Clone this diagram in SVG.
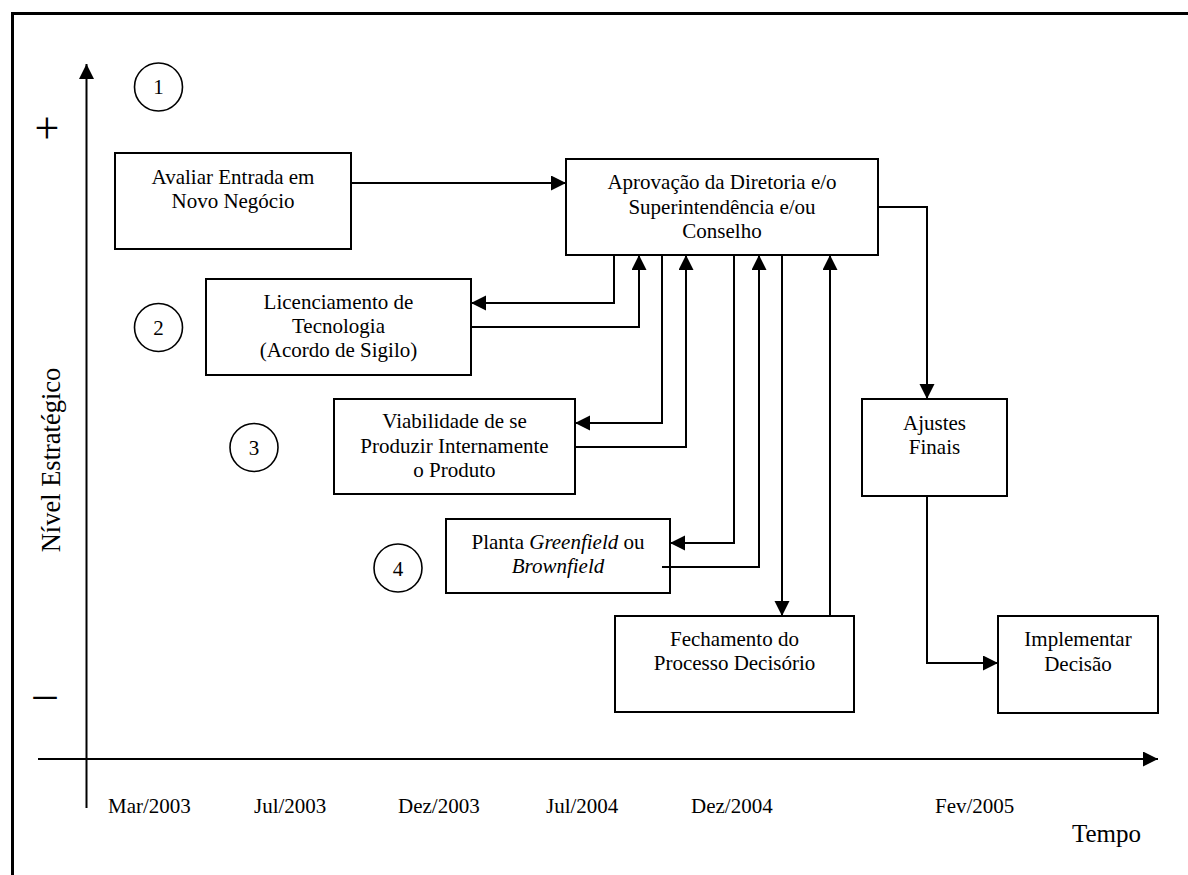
<svg xmlns="http://www.w3.org/2000/svg" width="1188" height="875" viewBox="0 0 1188 875" font-family="'Liberation Serif', 'Times New Roman', serif">
  <style>
    text { font-family: "Liberation Serif", "Times New Roman", serif; fill: #000; }
    .lbl { font-family: "Liberation Serif", "Times New Roman", serif; font-size: 21px; text-anchor: middle; }
    .date { font-family: "Liberation Serif", "Times New Roman", serif; font-size: 21px; }
    .box { fill: #fff; stroke: #000; stroke-width: 2; }
    .num { fill: none; stroke: #000; stroke-width: 1.6; }
    .wire { fill: none; stroke: #000; stroke-width: 2; }
    .axis { fill: none; stroke: #000; stroke-width: 2; }
  </style>
  <defs>
    <marker id="arrow" markerUnits="userSpaceOnUse" markerWidth="16" markerHeight="16" refX="15" refY="7.5" orient="auto">
      <path d="M0,0 L15,7.5 L0,15 Z" fill="#000"/>
    </marker>
  </defs>

  <rect width="1188" height="875" fill="#fff"/>
  <!-- outer frame (open on the right and bottom) -->
  <rect x="12.5" y="13.5" width="1200" height="900" fill="none" stroke="#000" stroke-width="3"/>

  <!-- axes -->
  <g id="axes">
    <line class="axis" x1="86.5" y1="808" x2="86.5" y2="64" marker-end="url(#arrow)" stroke-width="1.6"/>
    <line class="axis" x1="38" y1="759" x2="1158" y2="759" marker-end="url(#arrow)"/>
    <text x="47" y="143" font-size="44" text-anchor="middle">+</text>
    <text x="45" y="709" font-size="46" text-anchor="middle">–</text>
    <text transform="translate(60,460) rotate(-90)" font-size="26.5" text-anchor="middle">Nível Estratégico</text>
    <text x="1072" y="842" font-size="25">Tempo</text>
    <text class="date" x="108" y="813">Mar/2003</text>
    <text class="date" x="254" y="813">Jul/2003</text>
    <text class="date" x="398" y="813">Dez/2003</text>
    <text class="date" x="546" y="813">Jul/2004</text>
    <text class="date" x="691" y="813">Dez/2004</text>
    <text class="date" x="935" y="813">Fev/2005</text>
  </g>

  <!-- phase markers -->
  <g id="phase1">
    <circle class="num" cx="158.5" cy="87" r="24"/>
    <text class="lbl" x="158.5" y="94">1</text>
  </g>
  <g id="phase2">
    <circle class="num" cx="158.5" cy="327.5" r="24"/>
    <text class="lbl" x="158.5" y="335">2</text>
  </g>
  <g id="phase3">
    <circle class="num" cx="254" cy="447.5" r="24"/>
    <text class="lbl" x="254" y="455">3</text>
  </g>
  <g id="phase4">
    <circle class="num" cx="398" cy="568" r="24"/>
    <text class="lbl" x="398" y="575.5">4</text>
  </g>

  <!-- connectors -->
  <g id="connectors">
    <polyline class="wire" points="351,183 566,183" marker-end="url(#arrow)"/>
    <polyline class="wire" points="614,255 614,303 471,303" marker-end="url(#arrow)"/>
    <polyline class="wire" points="471,327 639,327 639,255" marker-end="url(#arrow)"/>
    <polyline class="wire" points="662,255 662,423 575,423" marker-end="url(#arrow)"/>
    <polyline class="wire" points="575,447 686,447 686,255" marker-end="url(#arrow)"/>
    <polyline class="wire" points="734,255 734,543 670,543" marker-end="url(#arrow)"/>
    <polyline class="wire" points="662,567 759,567 759,255" marker-end="url(#arrow)"/>
    <polyline class="wire" points="782,255 782,616" marker-end="url(#arrow)"/>
    <polyline class="wire" points="830,616 830,255" marker-end="url(#arrow)"/>
    <polyline class="wire" points="878,207 927,207 927,399" marker-end="url(#arrow)"/>
    <polyline class="wire" points="927,496 927,663 998,663" marker-end="url(#arrow)"/>
  </g>

  <!-- nodes -->
  <g id="avaliar">
    <rect class="box" x="115" y="153" width="236" height="96"/>
    <text class="lbl" x="233" y="184">Avaliar Entrada em</text>
    <text class="lbl" x="233" y="208">Novo Negócio</text>
  </g>
  <g id="aprovacao">
    <rect class="box" x="566" y="159" width="312" height="96"/>
    <text class="lbl" x="722" y="189">Aprovação da Diretoria e/o</text>
    <text class="lbl" x="722" y="214">Superintendência e/ou</text>
    <text class="lbl" x="722" y="238">Conselho</text>
  </g>
  <g id="licenciamento">
    <rect class="box" x="206" y="279" width="265" height="96"/>
    <text class="lbl" x="338.5" y="309">Licenciamento de</text>
    <text class="lbl" x="338.5" y="333">Tecnologia</text>
    <text class="lbl" x="338.5" y="357">(Acordo de Sigilo)</text>
  </g>
  <g id="viabilidade">
    <rect class="box" x="334" y="399" width="241" height="95"/>
    <text class="lbl" x="454.5" y="428">Viabilidade de se</text>
    <text class="lbl" x="454.5" y="453">Produzir Internamente</text>
    <text class="lbl" x="454.5" y="477">o Produto</text>
  </g>
  <g id="planta">
    <rect class="box" x="446" y="519" width="224" height="74"/>
    <text class="lbl" x="558" y="549">Planta <tspan font-style="italic">Greenfield</tspan> ou</text>
    <text class="lbl" x="558" y="573" font-style="italic">Brownfield</text>
    <line class="wire" x1="662" y1="567" x2="670" y2="567"/>
  </g>
  <g id="fechamento">
    <rect class="box" x="615" y="616" width="239" height="96"/>
    <text class="lbl" x="734.5" y="646">Fechamento do</text>
    <text class="lbl" x="734.5" y="670">Processo Decisório</text>
  </g>
  <g id="ajustes">
    <rect class="box" x="862" y="399" width="145" height="97"/>
    <text class="lbl" x="934.5" y="430">Ajustes</text>
    <text class="lbl" x="934.5" y="454">Finais</text>
  </g>
  <g id="implementar">
    <rect class="box" x="998" y="616" width="160" height="97"/>
    <text class="lbl" x="1078" y="646">Implementar</text>
    <text class="lbl" x="1078" y="671">Decisão</text>
  </g>
</svg>
